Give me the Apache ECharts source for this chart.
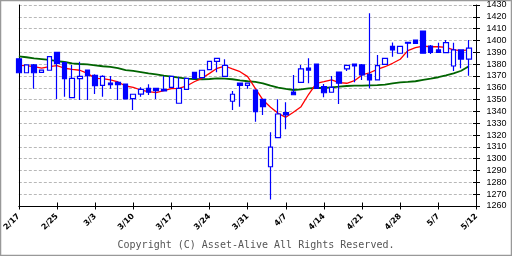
<!DOCTYPE html>
<html><head><meta charset="utf-8">
<script src="https://cdn.jsdelivr.net/npm/echarts@6/dist/echarts.min.js"></script>
<style>html,body{margin:0;padding:0;background:#fff}#c{width:512px;height:256px}</style>
</head><body><div id="c"></div>
<script>
const tickLabels = ['2/17','2/25','3/3','3/10','3/17','3/24','3/31','4/7','4/14','4/21','4/28','5/7','5/12'];
const opens  = [1384.5,1372.7,1379.3,1373,1374.8,1390,1381.2,1351.6,1367.7,1375,1370.5,1362.1,1364,1364.6,1363.2,1350.8,1354.7,1359.5,1359.5,1358.7,1360.4,1346.9,1358.7,1373.1,1368.5,1375.3,1382.4,1369.7,1348.6,1364,1362.1,1358.1,1350.2,1293.2,1317.8,1339,1356.4,1364.6,1376.7,1380.1,1360.9,1356.2,1373.3,1375.9,1380.1,1379.3,1371.4,1366.6,1379.8,1395,1389.2,1398.5,1400.4,1408,1395.3,1392,1389.7,1378.4,1392,1384.3];
const closes = [1372.7,1379.3,1372.7,1375,1386.3,1380.7,1367.7,1368,1369.7,1370.2,1361.8,1369.7,1362.6,1362.6,1350.5,1354.5,1358.7,1356.2,1357.5,1357.3,1369.7,1359.5,1368,1368,1374.8,1382.4,1384.9,1379,1354.5,1362.1,1364,1339.8,1344,1309.8,1337.8,1337,1354.1,1375.9,1375,1359.5,1355.8,1360.4,1363.8,1379,1378.4,1370.8,1366.6,1378.7,1384.9,1392,1395,1397.7,1397.6,1389.2,1390,1390,1398.1,1392,1384.3,1393.6];
const lows   = [1372.7,1372.7,1359.2,1373,1374.8,1350.5,1352.4,1351.6,1349.7,1349.7,1354.7,1352.4,1359.2,1349.7,1350.5,1341.2,1352.4,1353.9,1350.5,1357.3,1360.4,1346.9,1358.7,1368,1368.5,1375.3,1373.1,1369.7,1341.2,1344,1359.2,1331.3,1337,1265.5,1317.8,1324.9,1354,1364.6,1363.8,1359.5,1352,1356.2,1346.3,1374.2,1364.6,1366.6,1359.5,1366.6,1379.8,1386.3,1389.2,1385.3,1397.6,1389.2,1388.6,1390,1389.7,1374.2,1376.5,1370.2];
const highs  = [1384.5,1379.3,1380,1375,1386.3,1390,1382,1379.3,1382,1375,1371.5,1370.5,1369.9,1365.5,1363.2,1354.5,1360.4,1362.9,1359.5,1370,1369.7,1369.4,1368,1373.1,1374.8,1382.4,1384.9,1384.1,1357.2,1364,1364,1358.1,1350.2,1322.4,1350.2,1347.7,1370.8,1379.3,1384.9,1380.1,1363.2,1370,1373.3,1379,1380.1,1380.1,1423,1387.7,1384.9,1398.2,1395,1398.5,1400.4,1408,1396.2,1398.1,1400.4,1398.1,1392,1400.4];
const maShort = [1379,1378.7,1377.8,1376.7,1377.8,1378.7,1376.5,1375.6,1374.8,1372.2,1368,1367.7,1366.6,1364.9,1361.5,1360.4,1358.1,1356.7,1355.8,1357.5,1359.2,1359.5,1361.5,1365.1,1368,1372.2,1376.5,1378.4,1375.9,1373.6,1369.4,1359.5,1349.7,1343.5,1338.4,1335,1339.3,1344,1354.5,1363.8,1365.1,1366.6,1364.3,1363.8,1366,1370.8,1372.7,1375.6,1377.8,1380.7,1384.1,1391.4,1393.9,1395.3,1394.7,1394.7,1394.2,1392,1391.4,1392];
const maLong = [1386.6,1385.8,1384.9,1384.3,1383.5,1382.6,1381.8,1380.7,1380.1,1379.8,1379,1378.2,1377.6,1376.7,1375,1374.2,1373.3,1372.2,1371.4,1370.2,1369.4,1368.5,1367.7,1367.4,1367.2,1367.4,1368,1367.7,1367.2,1366.3,1365.5,1364.9,1363.8,1361.8,1360.1,1359,1358.1,1358.7,1359.5,1359.8,1359.8,1360.4,1360.9,1361.5,1361.8,1361.8,1362.1,1362.3,1362.6,1363.8,1364.6,1364.9,1365.5,1366.6,1367.7,1368.9,1370.5,1372.2,1374.4,1378.2];

const nSlots = (tickLabels.length - 1) * 5 + 1;
const categories = Array.from({length: nSlots}, (_, i) => String(i));
const ohlc = opens.map((o, i) => [o, closes[i], lows[i], highs[i]]);

const chart = echarts.init(document.getElementById('c'), null, {renderer: 'canvas'});
const gridLine = {show: true, lineStyle: {color: '#b8b8b8', type: [3, 2], width: 1}};
chart.setOption({
  animation: false,
  backgroundColor: '#fff',
  grid: {left: 10, right: 35.5, top: 5, bottom: 50},
  xAxis: [{
    type: 'category', data: categories, boundaryGap: false,
    axisLine: {show: true, lineStyle: {color: '#000', width: 1}},
    axisTick: {show: true, interval: 4, length: 3.5, lineStyle: {color: '#000'}},
    axisLabel: {show: true, interval: 4, rotate: 45, margin: 9, color: '#000', fontSize: 8, fontWeight: 'bold', fontFamily: 'DejaVu Sans',
      formatter: (v, i) => (i % 5 === 0 ? tickLabels[i / 5] : '')},
    splitLine: {show: false}
  }, {
    type: 'category', data: categories, boundaryGap: false, position: 'bottom',
    axisLine: {show: false},
    axisTick: {show: true, inside: true, interval: 4, length: 3.5, lineStyle: {color: '#000'}},
    axisLabel: {show: false}, splitLine: {show: false}
  }],
  yAxis: [{
    type: 'value', position: 'right', min: 1260, max: 1430, interval: 10,
    axisLine: {show: true, lineStyle: {color: '#000', width: 1}},
    axisTick: {show: true, length: 3.5, lineStyle: {color: '#000'}},
    axisLabel: {margin: 10, color: '#000', fontSize: 9, fontFamily: 'Liberation Sans', formatter: v => String(v)},
    splitLine: gridLine
  }, {
    type: 'value', position: 'right', min: 1260, max: 1430, interval: 10,
    axisLine: {show: false},
    axisTick: {show: true, inside: true, length: 3.5, lineStyle: {color: '#000'}},
    axisLabel: {show: false}, splitLine: {show: false}
  }, {
    type: 'value', position: 'left', min: 1260, max: 1430, interval: 10,
    axisLine: {show: true, lineStyle: {color: '#000', width: 1}},
    axisTick: {show: false}, axisLabel: {show: false}, splitLine: {show: false}
  }],
  series: [{
    type: 'line', data: maLong, symbol: 'none', z: 1,
    lineStyle: {color: '#006400', width: 1.8}
  }, {
    type: 'line', data: maShort, symbol: 'none', z: 1,
    lineStyle: {color: '#ff0000', width: 1.3}
  }, {
    type: 'candlestick', data: ohlc, barWidth: 5, clip: false, z: 3,
    itemStyle: {color: '#ffffff', color0: '#0000ff', borderColor: '#0000ff', borderColor0: '#0000ff', borderWidth: 1.2}
  }],
  graphic: [{
    type: 'text', left: 'center', top: 240,
    style: {text: 'Copyright (C) Asset-Alive All Rights Reserved.', font: '10px "DejaVu Sans Mono"', fill: '#555'}
  }, {
    type: 'rect', shape: {x: 0.5, y: 0.5, width: 511, height: 255}, silent: true,
    style: {fill: 'none', stroke: '#999', lineWidth: 1.5}
  }]
});
</script></body></html>
